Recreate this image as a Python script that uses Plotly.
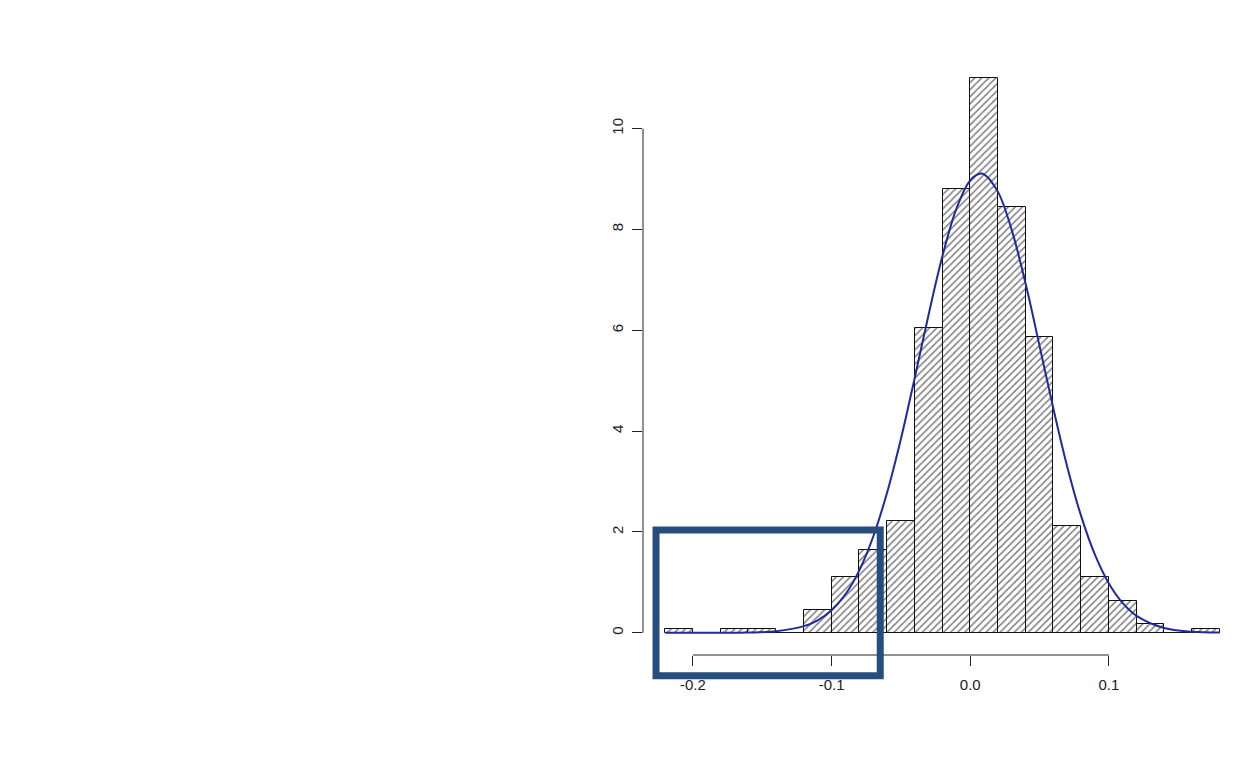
import plotly.graph_objects as go

# ---- data ----
bin_left = [-0.22, -0.20, -0.18, -0.16, -0.14, -0.12, -0.10, -0.08, -0.06, -0.04,
            -0.02, 0.00, 0.02, 0.04, 0.06, 0.08, 0.10, 0.12, 0.14, 0.16]
bin_width = 0.02
density = [0.085, 0.0, 0.085, 0.085, 0.0, 0.45, 1.10, 1.65, 2.21, 6.05,
           8.80, 11.0, 8.44, 5.87, 2.11, 1.10, 0.64, 0.17, 0.0, 0.085]

curve_x = [-0.22, -0.18, -0.16, -0.14, -0.12, -0.11, -0.10, -0.09, -0.08, -0.07,
           -0.06, -0.05, -0.04, -0.03, -0.02, -0.01, 0.0, 0.0075, 0.01, 0.02,
           0.03, 0.04, 0.05, 0.06, 0.07, 0.08, 0.09, 0.10, 0.11, 0.12,
           0.14, 0.16, 0.18]
curve_y = [0.0, 0.001, 0.006, 0.031, 0.132, 0.249, 0.448, 0.764, 1.238, 1.905,
           2.779, 3.846, 5.060, 6.313, 7.478, 8.410, 8.975, 9.108, 9.093, 8.745,
           7.982, 6.916, 5.689, 4.441, 3.291, 2.314, 1.545, 0.979, 0.589, 0.337,
           0.094, 0.021, 0.004]

x_ticks = [-0.2, -0.1, 0.0, 0.1]
x_tick_labels = ["-0.2", "-0.1", "0.0", "0.1"]
y_ticks = [0, 2, 4, 6, 8, 10]
y_tick_labels = ["0", "2", "4", "6", "8", "10"]

highlight_x = [-0.2266, -0.0649]
highlight_y = [-0.853, 2.04]

FONT = "Liberation Sans, Arial, Helvetica, sans-serif"

X_RANGE = [-0.236, 0.196]
Y_RANGE = [-0.44, 11.44]


def to_paper_x(v):
    return (v - X_RANGE[0]) / (X_RANGE[1] - X_RANGE[0])


def to_paper_y(v):
    return (v - Y_RANGE[0]) / (Y_RANGE[1] - Y_RANGE[0])


bin_centers = [b + bin_width / 2 for b in bin_left]

fig = go.Figure()
fig.add_trace(go.Bar(
    x=bin_centers, y=density, width=bin_width,
    marker=dict(
        color="white",
        line=dict(color="#111111", width=1),
        pattern=dict(shape="/", fgcolor="#000000", bgcolor="white",
                     size=5, solidity=0.3),
    ),
    hoverinfo="skip", showlegend=False,
))
fig.add_trace(go.Scatter(
    x=curve_x, y=curve_y, mode="lines",
    line=dict(color="#1f2a9c", width=2, shape="spline"),
    hoverinfo="skip", showlegend=False,
))

shapes = [
    # R-style axis lines spanning only the tick range
    dict(type="line", xref="x", yref="paper", x0=min(x_ticks), x1=max(x_ticks),
         y0=0, y1=0, line=dict(color="#222222", width=1), layer="above"),
    dict(type="line", xref="paper", yref="y", x0=0, x1=0,
         y0=min(y_ticks), y1=max(y_ticks), line=dict(color="#222222", width=1),
         layer="above"),
    # highlight box (paper refs so it is not clipped at the plot edge)
    dict(type="rect", xref="paper", yref="paper",
         x0=to_paper_x(highlight_x[0]), x1=to_paper_x(highlight_x[1]),
         y0=to_paper_y(highlight_y[0]), y1=to_paper_y(highlight_y[1]),
         line=dict(color="#254e7f", width=7), fillcolor="rgba(0,0,0,0)",
         layer="above"),
]

fig.update_layout(
    width=1260, height=780,
    margin=dict(l=635, r=26, t=48, b=133),
    paper_bgcolor="white", plot_bgcolor="white",
    bargap=0,
    font=dict(family=FONT, size=15, color="#222222"),
    shapes=shapes,
    xaxis=dict(range=X_RANGE, tickvals=x_ticks, ticktext=x_tick_labels,
               ticks="outside", ticklen=10, tickcolor="#222222", tickwidth=1,
               showgrid=False, zeroline=False, showline=False,
               ticklabelstandoff=6, tickfont=dict(size=15)),
    yaxis=dict(range=Y_RANGE, tickvals=y_ticks, ticktext=y_tick_labels,
               ticks="outside", ticklen=10, tickcolor="#222222", tickwidth=1,
               tickangle=-90, showgrid=False, zeroline=False, showline=False,
               ticklabelstandoff=3, tickfont=dict(size=15)),
)

fig.write_html("out.html")
